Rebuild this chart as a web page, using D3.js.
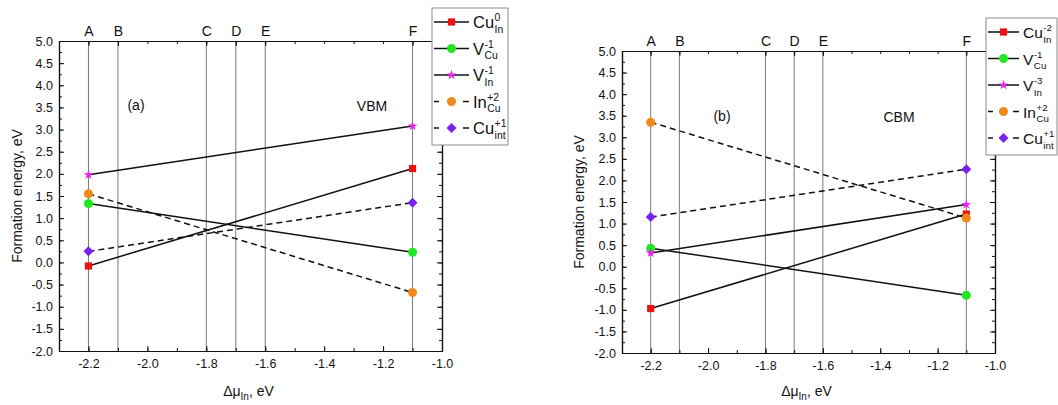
<!DOCTYPE html>
<html>
<head>
<meta charset="utf-8">
<script src="https://cdn.jsdelivr.net/npm/d3@7"></script>
<style>
  body { margin: 0; background: #fff; }
  svg { display: block; font-family: "Liberation Sans", Arial, sans-serif; }
</style>
</head>
<body>
<div id="chart"></div>
<script>
// chemical potential points (top axis)
var pointNames = ['A', 'B', 'C', 'D', 'E', 'F'];
var pointMu = [-2.2, -2.1, -1.8, -1.7, -1.6, -1.1];
var xTicks = [-2.2, -2.0, -1.8, -1.6, -1.4, -1.2, -1.0];
var yTicks = [-2.0, -1.5, -1.0, -0.5, 0.0, 0.5, 1.0, 1.5, 2.0, 2.5, 3.0, 3.5, 4.0, 4.5, 5.0];
// every series goes from point A to point F
var muEnds = [-2.2, -1.1];

// (a) VBM
var vbmCuIn = [-0.08, 2.12];
var vbmVCu = [1.33, 0.23];
var vbmVIn = [1.98, 3.08];
var vbmInCu = [1.55, -0.68];
var vbmCuInt = [0.25, 1.35];
var vbmNames = [['Cu', '0', 'In'], ['V', '-1', 'Cu'], ['V', '-1', 'In'], ['In', '+2', 'Cu'], ['Cu', '+1', 'int']];

// (b) CBM
var cbmCuIn = [-0.97, 1.22];
var cbmVCu = [0.43, -0.66];
var cbmVIn = [0.32, 1.44];
var cbmInCu = [3.35, 1.13];
var cbmCuInt = [1.15, 2.26];
var cbmNames = [['Cu', '-2', 'In'], ['V', '-1', 'Cu'], ['V', '-3', 'In'], ['In', '+2', 'Cu'], ['Cu', '+1', 'int']];

var styles = [
	{ color: '#ee1111', symbol: d3.symbolSquare, size: 52, rot: 0, dash: null },
	{ color: '#22e622', symbol: d3.symbolCircle, size: 64, rot: 0, dash: null },
	{ color: '#ee22ee', symbol: d3.symbolStar, size: 30, rot: 0, dash: null },
	{ color: '#f0891c', symbol: d3.symbolCircle, size: 64, rot: 0, dash: '6,4' },
	{ color: '#7722ee', symbol: d3.symbolSquare, size: 50, rot: 45, dash: '6,4' }
];

var W = 1058, H = 405;
var svg = d3.select('#chart').append('svg').attr('width', W).attr('height', H);

function drawPanel(p) {
	var x = d3.scaleLinear().domain([-2.3, -1.0]).range([p.left, p.right]);
	var y = d3.scaleLinear().domain([-2, 5]).range([p.bottom, p.top]);
	var g = svg.append('g');
	var fmt = function (d) { return d.toFixed(1); };
	var minorX = d3.range(-23, -9).map(function (d) { return d / 10; });
	var minorY = d3.range(-8, 21).map(function (d) { return d / 4; });

	// vertical lines at A..F
	g.selectAll('.vline').data(pointMu).enter().append('line')
		.attr('x1', function (d) { return x(d); })
		.attr('x2', function (d) { return x(d); })
		.attr('y1', p.top).attr('y2', p.bottom)
		.attr('stroke', '#7a7a7a').attr('stroke-width', 1);

	// series
	p.series.forEach(function (vals, i) {
		var st = styles[i];
		var pts = vals.map(function (v, j) { return [muEnds[j], v]; });
		g.append('path')
			.attr('d', d3.line().x(function (d) { return x(d[0]); }).y(function (d) { return y(d[1]); })(pts))
			.attr('fill', 'none').attr('stroke', '#111').attr('stroke-width', 1.5)
			.attr('stroke-dasharray', st.dash);
	});
	p.series.forEach(function (vals, i) {
		var st = styles[i];
		g.selectAll(null).data(vals).enter().append('path')
			.attr('d', d3.symbol().type(st.symbol).size(st.size))
			.attr('transform', function (d, j) { return 'translate(' + x(muEnds[j]) + ',' + y(d) + ') rotate(' + st.rot + ')'; })
			.attr('fill', st.color);
	});

	// axes
	var axes = [
		{ ax: d3.axisBottom(x).tickValues(xTicks).tickFormat(fmt).tickSize(-5).tickPadding(8), t: 'translate(0,' + p.bottom + ')' },
		{ ax: d3.axisBottom(x).tickValues(minorX).tickFormat('').tickSize(-3), t: 'translate(0,' + p.bottom + ')' },
		{ ax: d3.axisTop(x).tickValues(pointMu).tickFormat(function (d, i) { return pointNames[i]; }).tickSize(-5).tickPadding(5), t: 'translate(0,' + p.top + ')' },
		{ ax: d3.axisTop(x).tickValues(minorX).tickFormat('').tickSize(-3), t: 'translate(0,' + p.top + ')' },
		{ ax: d3.axisLeft(y).tickValues(yTicks).tickFormat(fmt).tickSize(-5).tickPadding(6), t: 'translate(' + p.left + ',0)' },
		{ ax: d3.axisLeft(y).tickValues(minorY).tickFormat('').tickSize(-3), t: 'translate(' + p.left + ',0)' },
		{ ax: d3.axisRight(y).tickValues(yTicks).tickFormat('').tickSize(-5), t: 'translate(' + p.right + ',0)' },
		{ ax: d3.axisRight(y).tickValues(minorY).tickFormat('').tickSize(-3), t: 'translate(' + p.right + ',0)' }
	];
	axes.forEach(function (a) {
		var ag = g.append('g').attr('transform', a.t).call(a.ax.tickSizeOuter(0));
		ag.select('.domain').attr('stroke', '#111').attr('stroke-width', 1.2);
		ag.selectAll('.tick line').attr('stroke', '#111');
		ag.selectAll('text').attr('font-size', 12.5).attr('fill', '#111').attr('font-family', null);
	});
	g.selectAll('.tick text').filter(function (d) { return pointMu.indexOf(d) >= 0 && this.textContent.length === 1; })
		.attr('font-size', 14);

	// axis titles
	g.append('text')
		.attr('transform', 'translate(' + p.ylabX + ',' + ((p.top + p.bottom) / 2) + ') rotate(-90)')
		.attr('text-anchor', 'middle').attr('font-size', 14).attr('fill', '#111')
		.text('Formation energy, eV');
	var xl = g.append('text').attr('x', (p.left + p.right) / 2 - 2).attr('y', p.xlabY)
		.attr('text-anchor', 'middle').attr('font-size', 14).attr('fill', '#111');
	xl.append('tspan').text('Δμ');
	xl.append('tspan').attr('font-size', 10).attr('dy', 4).text('In');
	xl.append('tspan').attr('dy', -4).text(', eV');

	g.append('text').attr('x', p.tagX).attr('y', p.tagY).attr('text-anchor', 'middle')
		.attr('font-size', 14).attr('fill', '#111').text(p.tag);
	g.append('text').attr('x', p.bandX).attr('y', p.tagY + 1).attr('text-anchor', 'middle')
		.attr('font-size', 14).attr('fill', '#111').text(p.band);

	// legend
	var lg = svg.append('g').attr('transform', 'translate(' + p.legX + ',' + p.legY + ')');
	lg.append('rect').attr('x', 0).attr('y', 0).attr('width', p.legW).attr('height', 137)
		.attr('fill', '#fff').attr('stroke', '#8a8a8a').attr('stroke-width', 1);
	p.names.forEach(function (nm, i) {
		var st = styles[i];
		var cy = 14 + i * 26.5;
		lg.append('line').attr('x1', 2).attr('x2', p.legTx - 4).attr('y1', cy).attr('y2', cy)
			.attr('stroke', '#111').attr('stroke-width', 1.5)
			.attr('stroke-dasharray', st.dash ? '5,' + (p.legTx - 17) + ',6' : null);
		lg.append('path').attr('d', d3.symbol().type(st.symbol).size(st.size)())
			.attr('transform', 'translate(' + ((p.legTx - 2) / 2) + ',' + cy + ') rotate(' + st.rot + ')').attr('fill', st.color);
		var base = lg.append('text').attr('x', p.legTx).attr('y', cy + 6)
			.attr('font-size', p.legFont).attr('fill', '#111').text(nm[0]);
		var bw = base.node().getComputedTextLength();
		lg.append('text').attr('x', p.legTx + bw + 0.5).attr('y', cy - 1)
			.attr('font-size', p.legFont * 0.63).attr('fill', '#111').text(nm[1]);
		lg.append('text').attr('x', p.legTx + bw + 0.5).attr('y', cy + 10.5)
			.attr('font-size', p.legFont * 0.63).attr('fill', '#111').text(nm[2]);
	});
}

drawPanel({
	left: 59, right: 442, top: 41, bottom: 351,
	series: [vbmCuIn, vbmVCu, vbmVIn, vbmInCu, vbmCuInt], names: vbmNames,
	ylabX: 22, xlabY: 396, tag: '(a)', tagX: 136, tagY: 110, band: 'VBM', bandX: 372,
	legX: 432, legY: 8, legW: 76, legTx: 41, legFont: 16.5
});
drawPanel({
	left: 622, right: 995, top: 51, bottom: 353,
	series: [cbmCuIn, cbmVCu, cbmVIn, cbmInCu, cbmCuInt], names: cbmNames,
	ylabX: 584, xlabY: 396, tag: '(b)', tagX: 722, tagY: 121, band: 'CBM', bandX: 899,
	legX: 986, legY: 18, legW: 71, legTx: 37, legFont: 15.5
});
</script>
</body>
</html>
